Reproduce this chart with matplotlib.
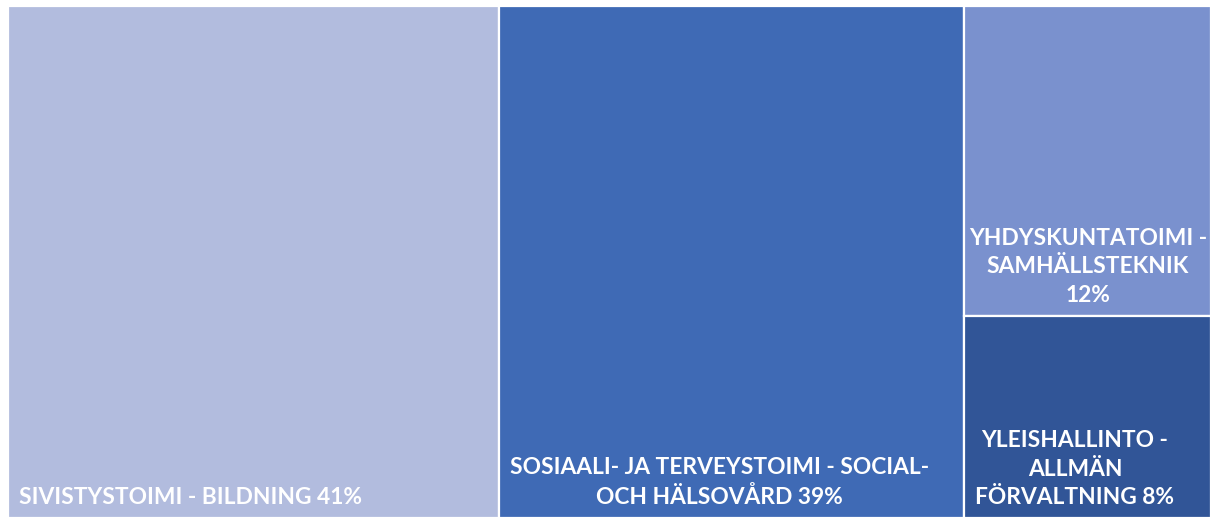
import matplotlib.pyplot as plt
from matplotlib.patches import Rectangle

plt.rcParams['font.family'] = ['Lato', 'DejaVu Sans']

# osuudet (%), luettu kuvasta
labels = ['SIVISTYSTOIMI - BILDNING',
          'SOSIAALI- JA TERVEYSTOIMI - SOCIAL-\nOCH HÄLSOVÅRD',
          'YHDYSKUNTATOIMI -\nSAMHÄLLSTEKNIK\n',
          'YLEISHALLINTO -\nALLMÄN\nFÖRVALTNING']
values = [40.8, 38.7, 12.4, 8.1]
colors = ['#B2BCDE', '#3F6AB5', '#7A91CE', '#315597']

fig = plt.figure(figsize=(12.12, 5.18), dpi=100)
ax = fig.add_axes([8 / 1212, 0, 1203 / 1212, 512 / 518])
ax.set_xlim(0, 1)
ax.set_ylim(0, 1)
ax.axis('off')
total = sum(values)

# treemap: kaksi ensimmäistä pystysuikaleina, kaksi viimeistä pinottuna
rects = []
x = 0
for v in values[:2]:
    rects.append((x, 0, v / total, 1))
    x += v / total
rest = sum(values[2:])
y = 1
for v in values[2:]:
    h = v / rest
    rects.append((x, y - h, 1 - x, h))
    y -= h

renderer = fig.canvas.get_renderer()
for (rx, ry, rw, rh), lab, v, c in zip(rects, labels, values, colors):
    ax.add_patch(Rectangle((rx, ry), rw, rh, facecolor=c, edgecolor='white', linewidth=1.6))
    txt = lab.rstrip('\n')
    sep = '\n' if lab.endswith('\n') else ' '
    t = ax.annotate(f'{txt}{sep}{round(v)}%', xy=(rx, ry), xytext=(8, 7), textcoords='offset points',
                    ha='left', va='bottom', multialignment='center', fontsize=16.4,
                    fontweight='bold', color='white', linespacing=1.45)
    # jos teksti ei mahdu, keskitetään laatikkoon
    box_right = ax.transData.transform((rx + rw, 0))[0]
    if t.get_window_extent(renderer).x1 > box_right - 6:
        t.xy = (rx + rw / 2, ry)
        t.set_position((0, 7))
        t.set_ha('center')

fig.savefig('out.png', dpi=100)
